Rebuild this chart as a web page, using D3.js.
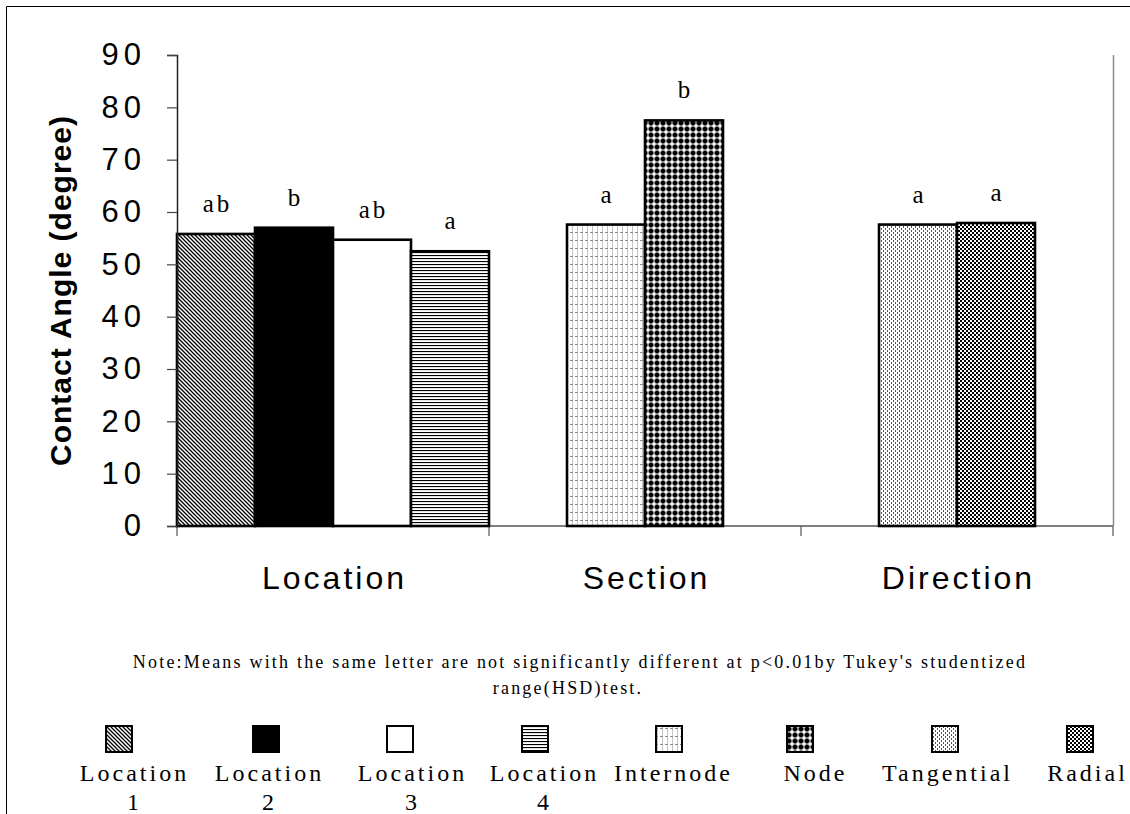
<!DOCTYPE html>
<html><head><meta charset="utf-8">
<script src="https://cdn.jsdelivr.net/npm/d3@7"></script>
<style>body{margin:0;background:#fff}</style>
</head><body>
<svg id="chart" width="1130" height="814"></svg>
<script>
// ---- data ----
const groups = ["Location", "Section", "Direction"];
const seriesNames = ["Location 1", "Location 2", "Location 3", "Location 4", "Internode", "Node", "Tangential", "Radial"];
const seriesGroup = ["Location", "Location", "Location", "Location", "Section", "Section", "Direction", "Direction"];
const values = [55.8, 57.0, 54.7, 52.5, 57.6, 77.5, 57.6, 57.9];
const letters = ["ab", "b", "ab", "a", "a", "b", "a", "a"];
const yTicks = [0, 10, 20, 30, 40, 50, 60, 70, 80, 90];
const noteLines = ["Note:Means with the same letter are not significantly different at p<0.01by Tukey's studentized", "range(HSD)test."];

// ---- layout ----
const plot = {left: 177, right: 1113, top: 55, bottom: 526};
const legendTextX = [133, 268, 411, 543, 672, 814, 946, 1086];
const legendSwatchX = [119, 266, 400, 535, 669, 800, 945, 1080];
const noteX = [580, 568];
const patternIds = ["p1", "p2", "p3", "p4", "p5", "p6", "p7", "p8"];

const svg = d3.select("#chart");
const defs = svg.append("defs");

function pat(id, w, h, build) {
  const p = defs.append("pattern").attr("id", id).attr("patternUnits", "userSpaceOnUse")
    .attr("width", w).attr("height", h);
  p.append("rect").attr("width", w).attr("height", h).attr("fill", "#fff");
  build(p);
}
pat("p1", 4, 4, p => p.append("path").attr("d", "M-1,-1L5,5M-1,3L1,5M3,-1L5,1").attr("stroke", "#000").attr("stroke-width", 1.3));
pat("p2", 4, 4, p => p.append("rect").attr("width", 4).attr("height", 4).attr("fill", "#000"));
pat("p3", 4, 4, p => {});
pat("p4", 4, 3, p => p.append("rect").attr("width", 4).attr("height", 1.1).attr("fill", "#000"));
pat("p5", 5, 8, p => {
  p.append("rect").attr("x", 2).attr("y", 0).attr("width", 1).attr("height", 8).attr("fill", "#c4c4c4");
  p.append("rect").attr("x", 0).attr("y", 0).attr("width", 3).attr("height", 1).attr("fill", "#8a8a8a");
});
pat("p6", 6, 6, p => {
  p.append("rect").attr("x", 0.5).attr("y", 1.5).attr("width", 5).attr("height", 3).attr("fill", "#000");
  p.append("rect").attr("x", 1.5).attr("y", 0.5).attr("width", 3).attr("height", 5).attr("fill", "#000");
});
pat("p7", 4, 4, p => {
  p.append("rect").attr("x", 1).attr("y", 0).attr("width", 1).attr("height", 2).attr("fill", "#555");
  p.append("rect").attr("x", 3).attr("y", 2).attr("width", 1).attr("height", 2).attr("fill", "#555");
});
pat("p8", 4, 4, p => {
  p.append("rect").attr("x", 0).attr("y", 0).attr("width", 2).attr("height", 2).attr("fill", "#000");
  p.append("rect").attr("x", 2).attr("y", 2).attr("width", 2).attr("height", 2).attr("fill", "#000");
});

// frame
svg.append("path").attr("d", "M6.5,820V6.5H1135").attr("fill", "none").attr("stroke", "#000").attr("stroke-width", 1);

// scales
const x = d3.scaleBand().domain(groups).range([plot.left, plot.right]).padding(0);
const y = d3.scaleLinear().domain([0, 90]).range([plot.bottom, plot.top]);
const barW = x.bandwidth() / 4;

const data = seriesNames.map((name, i) => {
  const members = seriesNames.filter((_, j) => seriesGroup[j] === seriesGroup[i]);
  const k = members.indexOf(name);
  return {name, group: seriesGroup[i], value: values[i], letter: letters[i], pid: patternIds[i], k, n: members.length};
});
const barX = d => x(d.group) + x.bandwidth() / 2 + (d.k - d.n / 2) * barW;

// plot right border (gray)
svg.append("line").attr("x1", plot.right + 0.5).attr("x2", plot.right + 0.5)
  .attr("y1", plot.top).attr("y2", plot.bottom).attr("stroke", "#8c8c8c").attr("stroke-width", 1.5);

// x axis line
svg.append("line").attr("x1", plot.left).attr("x2", plot.right).attr("y1", plot.bottom).attr("y2", plot.bottom)
  .attr("stroke", "#808080").attr("stroke-width", 2);
const bounds = groups.map(g => x(g)).concat([x(groups[groups.length - 1]) + x.bandwidth()]);
svg.selectAll(".xtick").data(bounds).enter().append("line")
  .attr("x1", d => d).attr("x2", d => d).attr("y1", plot.bottom).attr("y2", plot.bottom + 10)
  .attr("stroke", "#555").attr("stroke-width", 1.2);

// bars
svg.selectAll(".bar").data(data).enter().append("rect")
  .attr("x", barX).attr("width", barW)
  .attr("y", d => y(d.value)).attr("height", d => y(0) - y(d.value))
  .attr("fill", d => `url(#${d.pid})`).attr("stroke", "#000").attr("stroke-width", 2.6);

// y axis
const yAxis = d3.axisLeft(y).tickValues(yTicks).tickSize(10).tickPadding(21).tickFormat(d3.format("d"));
const ya = svg.append("g").attr("transform", `translate(${plot.left},0)`).call(yAxis);
ya.select(".domain").attr("stroke", "#222").attr("stroke-width", 1.5);
ya.selectAll(".tick line").attr("stroke", "#444").attr("stroke-width", 1.2);
ya.selectAll(".tick text").attr("font-family", "Liberation Sans, Arial, sans-serif").attr("font-size", 31)
  .attr("letter-spacing", 5).attr("fill", "#000");

// y title
svg.append("text").attr("transform", `translate(71,${(plot.top + plot.bottom) / 2}) rotate(-90)`)
  .attr("text-anchor", "middle").attr("font-family", "Liberation Sans, Arial, sans-serif")
  .attr("font-weight", "bold").attr("font-size", 30).attr("letter-spacing", 1).text("Contact Angle (degree)");

// letter labels
svg.selectAll(".lbl").data(data).enter().append("text")
  .attr("x", d => barX(d) + barW / 2 + 1.5).attr("y", d => y(d.value) - 22)
  .attr("text-anchor", "middle").attr("font-family", "Liberation Serif, Times New Roman, serif")
  .attr("font-size", 25).attr("letter-spacing", 3).text(d => d.letter);

// category labels
svg.selectAll(".cat").data(groups).enter().append("text")
  .attr("x", d => x(d) + x.bandwidth() / 2 + 1.5).attr("y", 589)
  .attr("text-anchor", "middle").attr("font-family", "Liberation Sans, Arial, sans-serif")
  .attr("font-size", 32).attr("letter-spacing", 3).text(d => d);

// note
svg.selectAll(".note").data(noteLines).enter().append("text")
  .attr("x", (d, i) => noteX[i]).attr("y", (d, i) => 668 + i * 26)
  .attr("text-anchor", "middle").attr("font-family", "Liberation Serif, Times New Roman, serif")
  .attr("font-size", 18).attr("letter-spacing", 2.2).text(d => d);

// legend
const lg = svg.selectAll(".leg").data(data).enter().append("g");
lg.append("rect").attr("x", (d, i) => legendSwatchX[i] - 13).attr("y", 726).attr("width", 26).attr("height", 26)
  .attr("fill", d => `url(#${d.pid})`).attr("stroke", "#000").attr("stroke-width", 2);
lg.each(function(d, i) {
  const words = d.name.split(" ");
  const t = d3.select(this).append("text").attr("text-anchor", "middle")
    .attr("font-family", "Liberation Serif, Times New Roman, serif").attr("font-size", 24).attr("letter-spacing", 3);
  words.forEach((w, j) => t.append("tspan").attr("x", legendTextX[i] + 1.5).attr("y", 781 + j * 29).text(w));
});
</script>
</body></html>
